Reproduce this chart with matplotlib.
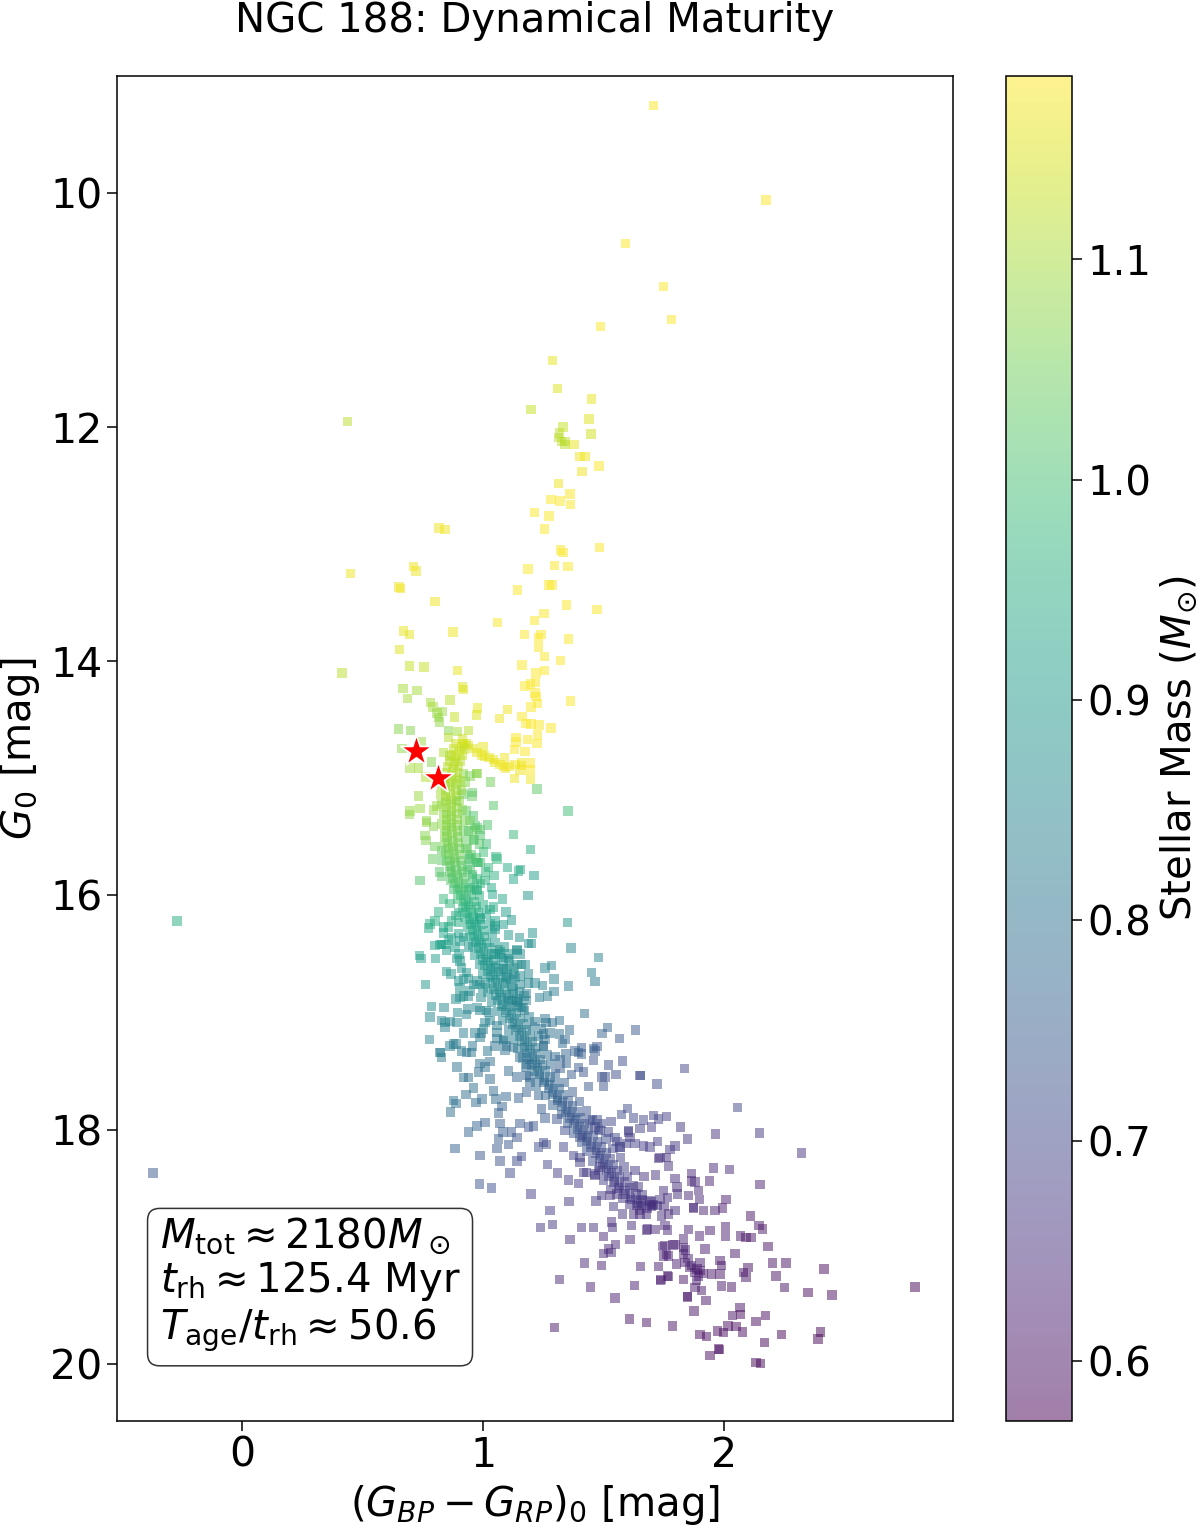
import matplotlib
matplotlib.use('Agg')
import matplotlib.pyplot as plt
import numpy as np

# Red giant branch and stars above the turnoff
giant_x = [1.707, 2.174, 1.592, 1.748, 1.781, 1.488, 1.288, 1.31, 1.45, 1.199,
           0.437, 1.44, 1.332, 1.448, 1.317, 1.313, 1.326, 1.34, 1.34, 1.378,
           1.402, 1.423, 1.481, 1.41, 1.313, 1.36, 1.282, 1.32, 1.364, 1.213,
           1.274, 1.254, 0.817, 0.842, 1.322, 1.331, 1.483, 0.711, 0.722, 0.449,
           1.297, 1.353, 1.187, 0.651, 0.657, 1.142, 1.274, 1.286, 0.801, 1.346,
           1.473, 1.253, 1.213, 1.061, 0.669, 0.694, 0.876, 1.173, 1.24, 1.231,
           1.355, 1.231, 0.654, 1.256, 1.321, 0.694, 0.755, 1.162, 0.893, 1.255,
           1.22, 0.414, 1.218, 1.198, 1.174, 0.914, 0.918, 0.667, 0.726, 1.216,
           0.687, 0.863, 0.781, 1.22, 1.227, 1.199, 1.364, 0.793, 0.977, 1.101,
           0.831, 0.808, 0.972, 0.815, 0.882, 1.161, 1.068, 0.819, 1.178, 1.199,
           1.232, 1.282, 0.65, 0.698, 0.856, 0.893, 0.939, 1.227]
giant_g = [9.25, 10.06, 10.43, 10.80, 11.08, 11.14, 11.43, 11.67, 11.76, 11.85,
           11.95, 11.93, 12.0, 12.06, 12.05, 12.09, 12.12, 12.12, 12.15, 12.15,
           12.25, 12.25, 12.33, 12.38, 12.48, 12.57, 12.62, 12.63, 12.66, 12.73,
           12.76, 12.87, 12.86, 12.875, 13.05, 13.07, 13.03, 13.19, 13.23, 13.25,
           13.18, 13.19, 13.21, 13.365, 13.38, 13.39, 13.35, 13.35, 13.49, 13.52,
           13.56, 13.59, 13.65, 13.67, 13.74, 13.77, 13.75, 13.77, 13.77, 13.80,
           13.81, 13.88, 13.90, 13.96, 13.995, 14.04, 14.05, 14.03, 14.08, 14.08,
           14.10, 14.10, 14.18, 14.195, 14.21, 14.22, 14.24, 14.23, 14.25, 14.27,
           14.32, 14.33, 14.35, 14.30, 14.36, 14.39, 14.34, 14.39, 14.40, 14.41,
           14.43, 14.44, 14.46, 14.48, 14.475, 14.47, 14.49, 14.52, 14.53, 14.535,
           14.545, 14.57, 14.58, 14.59, 14.59, 14.60, 14.59, 14.63]
giant_mass = [1.18, 1.18, 1.18, 1.18, 1.18, 1.18, 1.16, 1.15, 1.16, 1.13,
              1.12, 1.15, 1.13, 1.14, 1.12, 1.12, 1.12, 1.12, 1.12, 1.16,
              1.17, 1.17, 1.18, 1.17, 1.17, 1.18, 1.18, 1.18, 1.18, 1.18,
              1.18, 1.18, 1.17, 1.17, 1.18, 1.18, 1.18, 1.17, 1.17, 1.17,
              1.18, 1.18, 1.18, 1.17, 1.17, 1.18, 1.18, 1.18, 1.17, 1.18,
              1.18, 1.18, 1.18, 1.18, 1.16, 1.16, 1.17, 1.18, 1.18, 1.18,
              1.18, 1.18, 1.15, 1.18, 1.18, 1.13, 1.13, 1.18, 1.16, 1.18,
              1.18, 1.12, 1.18, 1.18, 1.18, 1.15, 1.15, 1.10, 1.10, 1.18,
              1.10, 1.12, 1.10, 1.18, 1.18, 1.18, 1.18, 1.10, 1.16, 1.17,
              1.09, 1.09, 1.15, 1.09, 1.13, 1.18, 1.17, 1.08, 1.18, 1.18,
              1.18, 1.18, 1.07, 1.07, 1.07, 1.10, 1.12, 1.18]

# Subgiant branch and the stars scattered around the turnoff
turnoff_x = [0.856, 0.914, 1.184, 1.223, 1.137, 1.136, 1.13, 0.743, 0.663, 1.0,
             0.92, 0.94, 0.96, 0.975, 0.995, 1.005, 1.025, 1.043, 1.05, 1.07,
             1.088, 1.084, 1.094, 1.11, 1.174, 1.133, 1.16, 1.16, 1.153, 1.198,
             1.195, 1.131, 1.196, 0.972, 1.03, 1.224, 1.044, 1.353, 0.954, 0.96,
             0.787, 0.697, 0.732, 0.764, 0.732, 0.697, 0.694, 0.739, 0.794, 0.808,
             0.766, 0.835, 0.863, 0.918, 0.946, 0.974, 0.925, 0.916, 0.932, 0.956]
turnoff_g = [14.65, 14.665, 14.67, 14.70, 14.65, 14.69, 14.755, 14.69, 14.745, 14.73,
             14.70, 14.72, 14.745, 14.78, 14.80, 14.81, 14.82, 14.84, 14.865, 14.88,
             14.82, 14.90, 14.91, 14.90, 14.77, 14.88, 14.865, 14.89, 14.93, 14.87,
             14.93, 15.0, 15.01, 14.96, 15.03, 15.09, 15.23, 15.28, 15.15, 15.32,
             14.86, 14.91, 14.91, 14.99, 15.15, 15.28, 15.31, 15.26, 15.27, 15.235,
             15.36, 14.78, 14.81, 14.96, 14.98, 14.96, 15.03, 15.135, 15.28, 15.12]
turnoff_mass = [1.12, 1.14, 1.18, 1.18, 1.18, 1.18, 1.18, 1.09, 1.08, 1.16,
                1.15, 1.15, 1.15, 1.16, 1.16, 1.16, 1.16, 1.16, 1.16, 1.17,
                1.17, 1.17, 1.17, 1.17, 1.18, 1.17, 1.17, 1.17, 1.17, 1.18,
                1.18, 1.17, 1.17, 1.08, 1.05, 1.03, 1.02, 0.99, 1.04, 1.01,
                1.07, 1.10, 1.10, 1.11, 1.09, 1.09, 1.08, 1.09, 1.09, 1.09,
                1.08, 1.11, 1.10, 1.08, 1.06, 1.07, 1.07, 1.04, 1.03, 1.03]

# Densely populated main sequence ridge, three tracks side by side
ridge_g = [14.70, 14.75, 14.80, 14.85, 14.90, 14.95, 15.00, 15.05, 15.10, 15.15,
           15.20, 15.25, 15.30, 15.35, 15.40, 15.45, 15.50, 15.55, 15.60, 15.65,
           15.70, 15.75, 15.80, 15.85, 15.90, 15.95, 16.00, 16.05, 16.10, 16.15,
           16.20, 16.25, 16.30, 16.35, 16.40, 16.45, 16.50, 16.55, 16.60, 16.65,
           16.70, 16.75, 16.80, 16.85, 16.90, 16.95, 17.00, 17.05, 17.10, 17.15,
           17.20, 17.25, 17.30, 17.35, 17.40, 17.45, 17.50, 17.55, 17.60, 17.65,
           17.70, 17.75, 17.80, 17.85, 17.90, 17.95, 18.00, 18.05, 18.10, 18.15,
           18.20, 18.25, 18.30, 18.35, 18.40, 18.45, 18.50, 18.55, 18.60, 18.65]
ridge_g_mid = [14.73, 14.77, 14.83, 14.87, 14.92, 14.98, 15.03, 15.07, 15.13, 15.18,
               15.22, 15.28, 15.32, 15.38, 15.42, 15.47, 15.53, 15.58, 15.62, 15.68,
               15.72, 15.78, 15.82, 15.88, 15.93, 15.97, 16.03, 16.08, 16.12, 16.18,
               16.23, 16.27, 16.33, 16.38, 16.42, 16.48, 16.53, 16.57, 16.63, 16.68,
               16.72, 16.78, 16.83, 16.87, 16.93, 16.98, 17.02, 17.08, 17.13, 17.17,
               17.23, 17.28, 17.32, 17.38, 17.43, 17.47, 17.53, 17.58, 17.62, 17.68,
               17.73, 17.77, 17.83, 17.88, 17.92, 17.98, 18.03, 18.07, 18.13, 18.18,
               18.22, 18.28, 18.33, 18.37, 18.43, 18.48, 18.52, 18.58, 18.63, 18.67]
ridge_mid = [0.91, 0.90, 0.89, 0.882, 0.875, 0.87, 0.865, 0.865, 0.865, 0.867,
             0.868, 0.87, 0.87, 0.87, 0.87, 0.871, 0.872, 0.875, 0.878, 0.881,
             0.885, 0.888, 0.892, 0.898, 0.905, 0.918, 0.93, 0.94, 0.95, 0.958,
             0.965, 0.972, 0.978, 0.985, 0.993, 1.002, 1.012, 1.021, 1.03, 1.041,
             1.052, 1.06, 1.067, 1.075, 1.082, 1.10, 1.117, 1.131, 1.145, 1.159,
             1.172, 1.184, 1.195, 1.205, 1.215, 1.225, 1.235, 1.255, 1.275, 1.293,
             1.31, 1.33, 1.35, 1.367, 1.383, 1.399, 1.415, 1.434, 1.452, 1.47,
             1.488, 1.504, 1.52, 1.533, 1.545, 1.565, 1.585, 1.612, 1.64, 1.68]
ridge_blue = [0.888, 0.878, 0.868, 0.86, 0.853, 0.848, 0.843, 0.843, 0.843, 0.845,
              0.846, 0.848, 0.848, 0.848, 0.848, 0.849, 0.85, 0.853, 0.856, 0.859,
              0.863, 0.866, 0.87, 0.876, 0.883, 0.896, 0.908, 0.918, 0.928, 0.936,
              0.943, 0.95, 0.956, 0.963, 0.971, 0.98, 0.99, 0.999, 1.008, 1.019,
              1.03, 1.038, 1.045, 1.053, 1.06, 1.078, 1.095, 1.109, 1.123, 1.137,
              1.15, 1.162, 1.173, 1.183, 1.193, 1.203, 1.213, 1.233, 1.253, 1.271,
              1.288, 1.308, 1.328, 1.345, 1.361, 1.377, 1.393, 1.412, 1.43, 1.448,
              1.466, 1.482, 1.498, 1.511, 1.523, 1.543, 1.563, 1.59, 1.618, 1.658]
ridge_red = [0.932, 0.922, 0.912, 0.904, 0.897, 0.892, 0.887, 0.887, 0.887, 0.889,
             0.89, 0.892, 0.892, 0.892, 0.892, 0.893, 0.894, 0.897, 0.90, 0.903,
             0.907, 0.91, 0.914, 0.92, 0.927, 0.94, 0.952, 0.962, 0.972, 0.98,
             0.987, 0.994, 1.0, 1.007, 1.015, 1.024, 1.034, 1.043, 1.052, 1.063,
             1.074, 1.082, 1.089, 1.097, 1.104, 1.122, 1.139, 1.153, 1.167, 1.181,
             1.194, 1.206, 1.217, 1.227, 1.237, 1.247, 1.257, 1.277, 1.297, 1.315,
             1.332, 1.352, 1.372, 1.389, 1.405, 1.421, 1.437, 1.456, 1.474, 1.492,
             1.51, 1.526, 1.542, 1.555, 1.567, 1.587, 1.607, 1.634, 1.662, 1.702]
ridge_mass = [1.14, 1.13, 1.13, 1.12, 1.12, 1.11, 1.11, 1.10, 1.10, 1.10,
              1.09, 1.09, 1.08, 1.08, 1.07, 1.07, 1.06, 1.06, 1.05, 1.05,
              1.04, 1.03, 1.03, 1.02, 1.01, 1.00, 0.98, 0.97, 0.96, 0.95,
              0.94, 0.93, 0.93, 0.92, 0.91, 0.90, 0.90, 0.89, 0.89, 0.88,
              0.88, 0.87, 0.87, 0.86, 0.86, 0.85, 0.85, 0.84, 0.83, 0.83,
              0.82, 0.82, 0.81, 0.80, 0.80, 0.79, 0.79, 0.78, 0.77, 0.77,
              0.76, 0.75, 0.75, 0.74, 0.74, 0.73, 0.73, 0.72, 0.72, 0.71,
              0.71, 0.70, 0.70, 0.69, 0.69, 0.68, 0.68, 0.675, 0.67, 0.665]

# Stars hugging both edges of the ridge
edge_x = [0.905, 0.83, 0.91, 0.825, 0.90, 0.83, 0.915, 0.835, 0.925, 0.83,
          0.92, 0.84, 0.93, 0.84, 0.935, 0.845, 0.94, 0.85, 0.945, 0.86,
          0.955, 0.865, 0.965, 0.88, 0.985, 0.895, 1.0, 0.915, 1.015, 0.925,
          1.03, 0.935, 1.04, 0.945, 1.05, 0.955, 1.07, 0.965, 1.085, 0.985,
          1.10, 1.0, 1.115, 1.01, 1.125, 1.02, 1.14, 1.035, 1.16, 1.06,
          1.19, 1.08, 1.205, 1.105, 1.23, 1.125, 1.25, 1.145, 1.265, 1.165,
          1.28, 1.175, 1.30, 1.195, 1.335, 1.22, 1.37, 1.26, 1.40, 1.29,
          1.43, 1.325, 1.455, 1.35, 1.48, 1.375, 1.51, 1.41, 1.54, 1.43,
          1.57, 1.455, 1.585, 1.48, 1.60, 1.50, 1.625, 1.53, 1.66, 1.58,
          1.70, 1.61, 1.735, 1.75, 1.655, 1.65]
edge_g = [15.02, 15.06, 15.10, 15.14, 15.19, 15.22, 15.27, 15.31, 15.36, 15.39,
          15.44, 15.47, 15.52, 15.55, 15.60, 15.63, 15.68, 15.71, 15.76, 15.79,
          15.84, 15.87, 15.92, 15.95, 16.0, 16.03, 16.08, 16.11, 16.16, 16.19,
          16.24, 16.27, 16.32, 16.35, 16.40, 16.43, 16.48, 16.51, 16.56, 16.59,
          16.64, 16.67, 16.72, 16.75, 16.80, 16.83, 16.88, 16.91, 16.96, 16.99,
          17.04, 17.07, 17.12, 17.15, 17.20, 17.23, 17.28, 17.31, 17.36, 17.39,
          17.44, 17.47, 17.52, 17.55, 17.60, 17.63, 17.68, 17.71, 17.76, 17.79,
          17.84, 17.87, 17.92, 17.95, 18.0, 18.03, 18.08, 18.11, 18.16, 18.19,
          18.24, 18.27, 18.32, 18.35, 18.40, 18.43, 18.48, 18.51, 18.56, 18.59,
          18.62, 18.64, 18.60, 18.66, 18.61, 18.69]
edge_mass = [1.10, 1.10, 1.09, 1.10, 1.08, 1.09, 1.07, 1.08, 1.06, 1.08,
             1.05, 1.07, 1.04, 1.06, 1.03, 1.05, 1.02, 1.04, 1.01, 1.03,
             1.00, 1.02, 0.98, 1.00, 0.96, 0.99, 0.95, 0.97, 0.93, 0.95,
             0.92, 0.94, 0.91, 0.93, 0.90, 0.91, 0.89, 0.90, 0.88, 0.89,
             0.87, 0.89, 0.86, 0.88, 0.86, 0.87, 0.85, 0.86, 0.84, 0.85,
             0.83, 0.85, 0.82, 0.83, 0.81, 0.83, 0.80, 0.82, 0.79, 0.81,
             0.78, 0.80, 0.77, 0.79, 0.76, 0.78, 0.75, 0.77, 0.74, 0.76,
             0.73, 0.75, 0.73, 0.74, 0.72, 0.74, 0.71, 0.73, 0.70, 0.72,
             0.69, 0.71, 0.69, 0.70, 0.68, 0.69, 0.67, 0.68, 0.67, 0.67,
             0.66, 0.665, 0.66, 0.65, 0.665, 0.66]

# Faint end of the ridge
ridge_faint_x = [1.70, 1.725, 1.831, 1.831, 1.838, 1.858, 1.879, 1.90, 1.914, 1.886,
                 1.879, 1.907, 1.925, 1.849, 1.875, 1.85, 1.865, 1.888, 1.895, 1.84]
ridge_faint_g = [18.66, 18.65, 19.01, 19.065, 19.135, 19.18, 19.22, 19.205, 19.23, 19.29,
                 19.35, 19.375, 19.46, 19.43, 19.55, 19.10, 19.16, 19.19, 19.25, 19.03]
ridge_faint_mass = [0.66, 0.66, 0.63, 0.63, 0.625, 0.62, 0.62, 0.62, 0.62, 0.62,
                    0.615, 0.61, 0.605, 0.61, 0.60, 0.63, 0.625, 0.62, 0.62, 0.63]

# Binary sequence stars just off the ridge
near_x = [0.939, 0.967, 0.96, 0.946, 0.974, 0.987, 0.946, 0.974, 1.043, 0.987,
          1.05, 1.14, 1.077, 1.084, 1.126, 1.098, 1.05, 1.153, 1.126, 1.14,
          1.181, 1.105, 0.898, 0.87, 0.856, 0.828, 0.904, 0.884, 0.87, 0.918,
          0.939, 0.904, 0.932, 0.974, 1.0, 0.987, 1.029, 1.057, 1.084, 1.126,
          1.153, 1.181, 1.458, 1.195, 1.23, 1.243, 1.257, 1.306, 1.34, 1.402,
          1.444, 1.465, 1.485, 1.555, 1.568, 1.603, 1.61, 1.402, 1.43, 1.485,
          1.465, 1.527, 1.555, 1.638, 1.693, 1.651, 1.624, 1.679]
near_g = [15.45, 15.405, 15.53, 15.69, 15.72, 15.49, 15.93, 15.96, 16.1, 16.19,
          16.22, 16.47, 16.53, 16.63, 16.67, 16.70, 16.62, 16.76, 16.84, 16.9,
          16.84, 16.88, 16.145, 16.22, 16.27, 16.42, 16.39, 16.44, 16.36, 16.36,
          16.44, 16.56, 16.66, 16.73, 16.79, 16.985, 17.07, 17.17, 17.24, 17.30,
          17.38, 17.44, 17.31, 17.6, 17.71, 17.825, 17.9, 17.91, 18.01, 18.07,
          17.925, 17.98, 18.01, 18.1, 18.15, 18.02, 18.07, 18.28, 18.365, 18.32,
          18.395, 18.565, 18.55, 18.65, 18.64, 18.72, 18.72, 18.86]
near_mass = [1.02, 1.01, 1.01, 1.00, 0.99, 1.01, 0.98, 0.97, 0.94, 0.93,
             0.92, 0.87, 0.88, 0.87, 0.87, 0.86, 0.88, 0.85, 0.85, 0.84,
             0.83, 0.85, 0.95, 0.95, 0.94, 0.92, 0.91, 0.91, 0.92, 0.90,
             0.89, 0.89, 0.88, 0.87, 0.87, 0.85, 0.84, 0.83, 0.82, 0.80,
             0.79, 0.78, 0.76, 0.77, 0.76, 0.75, 0.74, 0.73, 0.72, 0.71,
             0.71, 0.70, 0.70, 0.69, 0.68, 0.68, 0.68, 0.69, 0.68, 0.68,
             0.67, 0.66, 0.66, 0.66, 0.65, 0.65, 0.65, 0.64]

# Off-ridge stars with G between 15.1 and 16.0
upper_ms_x = [0.765, 0.794, 1.019, 0.974, 0.987, 1.127,
              0.759, 0.763, 1.015, 1.198, 0.801, 0.828, 0.791, 0.828, 1.053, 1.057,
              1.001, 0.739, 0.819, 0.827, 1.102, 1.147, 1.156, 1.126, 1.212, 1.046,
              1.022, 0.981, 1.008, 1.036, 1.04, 0.974, 1.187, 0.945, 0.955, 0.965,
              0.985, 0.93, 0.95, 0.97, 0.99, 0.935, 0.955, 0.975, 0.99, 1.01]
upper_ms_g = [15.375, 15.41, 15.40, 15.42, 15.435, 15.48,
              15.49, 15.53, 15.56, 15.61, 15.58, 15.62, 15.69, 15.70, 15.67, 15.69,
              15.63, 15.875, 15.80, 15.84, 15.76, 15.79, 15.78, 15.86, 15.83, 15.83,
              15.76, 15.72, 15.875, 15.93, 15.99, 15.95, 16.0, 15.36, 15.45, 15.52,
              15.56, 15.60, 15.65, 15.68, 15.72, 15.78, 15.82, 15.86, 15.90, 15.80]
upper_ms_mass = [1.08, 1.07, 1.01, 1.03, 1.02, 0.98,
                 1.07, 1.07, 0.99, 0.95, 1.05, 1.04, 1.04, 1.03, 0.97, 0.97,
                 0.99, 1.01, 1.02, 1.02, 0.94, 0.94, 0.94, 0.93, 0.91, 0.96,
                 0.97, 1.00, 0.96, 0.94, 0.93, 0.96, 0.89, 1.05, 1.04, 1.03,
                 1.02, 1.04, 1.02, 1.01, 1.00, 1.01, 1.00, 0.98, 0.97, 0.97]

# Off-ridge stars with G between 16.0 and 17.0
mid_ms_x = [1.08, 0.835, 0.863, 1.029, 1.095, 1.117, 1.35, 0.816, 0.888, 0.801,
            0.78, 0.773, 0.835, 0.835, 0.898, 0.898, 1.05, 1.05, 1.084, 1.105,
            1.205, 1.151, 1.188, 1.202, 0.856, 0.842, 0.821, 0.801, 0.849, 1.365,
            1.064, 1.05, 1.07, 1.14, 1.153, 1.112, 1.105, 1.479, 0.736, 0.743,
            0.803, 0.90, 0.891, 0.911, 1.14, 1.16, 1.177, 1.285, 1.257, 1.091,
            0.849, 0.867, 1.451, 1.465, 1.295, 1.188, 1.153, 1.133, 0.761, 0.918,
            0.939, 0.898, 1.188, 1.216, 1.247, 1.354, 0.904, 0.96, 0.987, 0.946,
            1.295, 1.268, 1.234, 1.181, 0.888, 0.904, 0.918, 0.939, 0.992, 1.147,
            0.786, 0.838, 0.935, 0.893, 0.932, 0.974, 1.015, 1.022, 1.172, 1.42,
            1.09, 1.11, 1.13, 1.095, 1.12, 1.15, 1.17, 1.12, 1.14, 1.165]
mid_ms_g = [16.03, 16.03, 16.07, 16.12, 16.14, 16.21, 16.23, 16.14, 16.17, 16.22,
            16.245, 16.28, 16.27, 16.32, 16.23, 16.325, 16.26, 16.29, 16.25, 16.34,
            16.32, 16.36, 16.41, 16.41, 16.38, 16.42, 16.42, 16.43, 16.47, 16.45,
            16.46, 16.50, 16.50, 16.46, 16.50, 16.50, 16.54, 16.53, 16.515, 16.54,
            16.54, 16.50, 16.54, 16.62, 16.59, 16.59, 16.59, 16.60, 16.62, 16.63,
            16.65, 16.67, 16.66, 16.735, 16.715, 16.67, 16.69, 16.70, 16.76, 16.715,
            16.71, 16.73, 16.75, 16.75, 16.77, 16.775, 16.79, 16.76, 16.76, 16.815,
            16.82, 16.86, 16.87, 16.90, 16.885, 16.87, 16.86, 16.86, 16.87, 16.91,
            16.95, 16.96, 16.97, 17.0, 17.015, 16.96, 16.985, 17.0, 16.985, 17.01,
            16.44, 16.56, 16.62, 16.72, 16.78, 16.82, 16.86, 16.90, 16.94, 16.96]
mid_ms_mass = [0.93, 0.98, 0.97, 0.93, 0.91, 0.90, 0.89, 0.96, 0.95, 0.95,
               0.95, 0.94, 0.94, 0.93, 0.94, 0.92, 0.91, 0.90, 0.90, 0.89,
               0.88, 0.88, 0.87, 0.87, 0.92, 0.92, 0.92, 0.92, 0.91, 0.85,
               0.89, 0.89, 0.89, 0.87, 0.87, 0.88, 0.87, 0.84, 0.92, 0.91,
               0.91, 0.90, 0.90, 0.89, 0.87, 0.86, 0.86, 0.84, 0.85, 0.87,
               0.90, 0.89, 0.83, 0.82, 0.84, 0.85, 0.86, 0.86, 0.89, 0.88,
               0.88, 0.88, 0.85, 0.85, 0.84, 0.83, 0.88, 0.87, 0.87, 0.87,
               0.83, 0.83, 0.83, 0.84, 0.87, 0.87, 0.87, 0.86, 0.86, 0.84,
               0.87, 0.86, 0.85, 0.86, 0.85, 0.85, 0.85, 0.85, 0.83, 0.79,
               0.89, 0.88, 0.87, 0.87, 0.86, 0.85, 0.84, 0.85, 0.84, 0.84]

# Off-ridge stars with G between 17.0 and 17.6
lower_ms_x = [0.78, 0.828, 0.842, 0.891, 0.842, 0.863, 1.008, 1.001, 1.216, 1.257,
              1.261, 1.289, 1.317, 1.057, 1.517, 1.633, 1.493, 1.243, 1.25, 1.278,
              1.317, 1.358, 0.918, 0.967, 0.994, 0.987, 1.566, 0.777, 1.057, 1.084,
              1.34, 1.33, 1.257, 1.25, 0.888, 0.863, 0.911, 0.957, 0.953, 0.932,
              1.05, 1.091, 1.098, 1.019, 0.821, 0.828, 1.409, 1.396, 1.382, 1.409,
              1.472, 1.465, 1.344, 1.299, 1.458, 1.52, 1.551, 1.578, 1.029, 0.987,
              1.008, 0.981, 0.891, 1.105, 1.319, 1.347, 1.396, 1.319, 1.368, 1.416,
              1.654, 0.918, 0.939, 1.029, 1.14, 1.181, 1.493, 1.506, 0.824, 0.877]
lower_ms_g = [17.04, 17.07, 17.085, 17.085, 17.13, 17.075, 17.085, 17.14, 17.075, 17.05,
              17.085, 17.085, 17.07, 17.11, 17.13, 17.15, 17.18, 17.14, 17.185, 17.175,
              17.185, 17.15, 17.175, 17.175, 17.175, 17.215, 17.22, 17.23, 17.22, 17.23,
              17.23, 17.265, 17.23, 17.285, 17.27, 17.285, 17.33, 17.285, 17.34, 17.34,
              17.285, 17.32, 17.285, 17.33, 17.34, 17.385, 17.30, 17.34, 17.33, 17.355,
              17.29, 17.33, 17.35, 17.375, 17.41, 17.45, 17.53, 17.415, 17.42, 17.435,
              17.465, 17.51, 17.465, 17.5, 17.40, 17.43, 17.47, 17.48, 17.53, 17.51,
              17.54, 17.555, 17.555, 17.57, 17.55, 17.54, 17.55, 17.55, 17.34, 17.27]
lower_ms_mass = [0.86, 0.85, 0.85, 0.84, 0.84, 0.85, 0.84, 0.84, 0.81, 0.81,
                 0.80, 0.80, 0.80, 0.83, 0.76, 0.74, 0.76, 0.80, 0.80, 0.79,
                 0.79, 0.78, 0.83, 0.83, 0.82, 0.82, 0.74, 0.85, 0.82, 0.82,
                 0.78, 0.78, 0.79, 0.79, 0.82, 0.83, 0.82, 0.81, 0.81, 0.81,
                 0.80, 0.80, 0.80, 0.81, 0.83, 0.82, 0.75, 0.75, 0.76, 0.75,
                 0.74, 0.74, 0.77, 0.78, 0.73, 0.72, 0.71, 0.71, 0.79, 0.80,
                 0.79, 0.79, 0.80, 0.78, 0.76, 0.76, 0.74, 0.75, 0.74, 0.73,
                 0.70, 0.80, 0.79, 0.78, 0.77, 0.76, 0.72, 0.72, 0.83, 0.83]

# Stars below the dense ridge, G between 17.6 and 18.6
faint_x = [0.93, 0.96, 1.043, 1.054, 1.095, 1.147, 1.181, 0.877, 0.888, 0.866,
           0.995, 0.971, 1.078, 1.064, 0.939, 0.974, 1.008, 1.071, 1.082, 1.119,
           1.064, 1.14, 1.105, 1.153, 1.188, 1.209, 0.884, 1.057, 0.988, 1.07,
           1.14, 1.16, 1.112, 0.985, 1.036, 1.199, 1.23, 1.25, 1.264, 1.333,
           1.375, 1.402, 1.268, 1.31, 1.354, 1.396, 1.416, 1.465, 1.357, 1.469,
           1.492, 1.499, 1.437, 1.721, 1.835, 1.651, 1.599, 1.575, 1.624, 1.665,
           1.707, 1.762, 1.727, 1.651, 1.603, 1.70, 1.82, 1.849, 1.965, 1.723,
           1.797, 1.776, 1.693, 1.665, 1.631, 1.596, 1.568, 1.548, 1.52, 1.492,
           1.531, 1.472, 1.734, 1.762, 1.727, 1.769, 1.956, 1.631, 1.668, 1.716,
           1.797, 1.866, 1.939, 1.866, 1.88, 1.893, 1.804, 1.748, 1.806, 1.852,
           1.898, 1.765, 1.693, 1.707, 1.645, 2.055, 2.146, 2.322, 2.022, 2.149]
faint_g = [17.70, 17.645, 17.67, 17.74, 17.72, 17.73, 17.68, 17.75, 17.78, 17.85,
           17.74, 17.77, 17.805, 17.86, 18.02, 17.97, 17.94, 17.95, 18.02, 18.02,
           18.08, 18.07, 18.13, 17.95, 17.98, 17.97, 18.16, 18.16, 18.22, 18.27,
           18.27, 18.23, 18.37, 18.465, 18.5, 18.55, 18.15, 18.11, 18.13, 18.15,
           18.22, 18.24, 18.30, 18.37, 18.43, 18.46, 18.365, 18.38, 18.615, 18.61,
           18.565, 17.63, 17.63, 17.61, 17.48, 17.54, 17.82, 17.87, 17.90, 17.92,
           17.88, 17.89, 17.91, 17.99, 18.01, 17.98, 17.98, 18.08, 18.04, 18.10,
           18.14, 18.17, 18.15, 18.14, 18.12, 18.12, 18.15, 18.07, 18.02, 17.95,
           17.93, 17.92, 18.24, 18.24, 18.25, 18.31, 18.33, 18.35, 18.40, 18.39,
           18.42, 18.375, 18.44, 18.44, 18.45, 18.52, 18.49, 18.52, 18.55, 18.565,
           18.60, 18.58, 18.61, 18.64, 18.49, 17.81, 18.03, 18.2, 18.34, 18.47]
faint_mass = [0.79, 0.79, 0.78, 0.78, 0.77, 0.76, 0.76, 0.80, 0.80, 0.79,
              0.78, 0.78, 0.76, 0.76, 0.77, 0.77, 0.76, 0.75, 0.75, 0.74,
              0.75, 0.73, 0.74, 0.74, 0.73, 0.73, 0.76, 0.74, 0.74, 0.73,
              0.71, 0.71, 0.71, 0.73, 0.72, 0.69, 0.72, 0.71, 0.71, 0.70,
              0.69, 0.69, 0.70, 0.69, 0.68, 0.68, 0.68, 0.68, 0.67, 0.67,
              0.67, 0.73, 0.74, 0.71, 0.70, 0.72, 0.71, 0.71, 0.70, 0.70,
              0.69, 0.68, 0.69, 0.69, 0.69, 0.68, 0.67, 0.67, 0.66, 0.68,
              0.67, 0.67, 0.68, 0.68, 0.69, 0.69, 0.70, 0.70, 0.70, 0.71,
              0.70, 0.71, 0.66, 0.66, 0.66, 0.66, 0.64, 0.67, 0.66, 0.66,
              0.65, 0.64, 0.63, 0.64, 0.64, 0.64, 0.65, 0.65, 0.65, 0.64,
              0.64, 0.65, 0.66, 0.66, 0.67, 0.70, 0.67, 0.66, 0.64, 0.63]

# Faintest stars, G beyond 18.6, plus the outliers on the blue side
tail_x = [1.541, 1.578, 1.278, 1.239, 1.289, 1.409, 1.458, 1.534, 1.537, 1.361,
          1.499, 1.61, 1.617, 1.55, 1.52, 1.499, 1.531, 1.42, 1.491, 1.654,
          1.729, 1.318, 1.445, 1.629, 1.548, 1.607, 1.678, 1.787, 1.296, 1.739,
          1.766, 1.831, 1.849, 1.873, 1.90, 1.928, 1.942, 1.972, 1.976, 1.873,
          1.914, 1.963, 1.797, 1.769, 1.741, 1.679, 1.755, 1.765, 1.682, 1.714,
          1.852, 1.898, 1.942, 1.921, 1.745, 1.762, 1.797, 1.831, 1.90, 1.948,
          1.983, 1.769, 1.737, 1.755, 1.789, 1.748, 1.769, 1.803, 2.008, 1.994,
          2.11, 2.145, 2.159, 2.006, 2.005, 2.069, 2.091, 2.112, 2.183, 2.045,
          2.201, 2.257, 2.099, 2.08, 2.091, 2.215, 2.414, 1.984, 1.99, 2.251,
          1.99, 2.03, 2.349, 2.448, 2.792, 2.066, 2.069, 2.034, 2.171, 2.132,
          2.017, 2.049, 2.076, 1.997, 2.239, 2.401, 2.39, 2.168, 1.98, 2.132,
          2.152, -0.27, -0.37]
tail_g = [18.66, 18.72, 18.69, 18.835, 18.81, 18.835, 18.835, 18.79, 18.835, 18.94,
          18.915, 18.94, 18.82, 18.98, 19.02, 19.06, 19.05, 19.14, 19.16, 19.17,
          19.17, 19.28, 19.345, 19.33, 19.44, 19.62, 19.65, 19.68, 19.69, 19.28,
          19.25, 19.28, 19.425, 18.665, 19.75, 19.77, 19.93, 19.72, 19.875, 18.67,
          18.69, 18.69, 18.69, 18.72, 18.74, 18.72, 18.82, 18.86, 18.85, 18.855,
          18.855, 18.91, 18.865, 19.02, 18.997, 19.07, 18.98, 18.935, 19.135, 19.235,
          19.235, 19.255, 19.29, 18.99, 18.985, 19.08, 19.08, 19.15, 18.60, 18.67,
          18.74, 18.82, 18.85, 18.83, 18.91, 18.91, 18.92, 18.92, 19.0, 19.06,
          19.14, 19.14, 19.18, 19.22, 19.26, 19.25, 19.19, 19.12, 19.16, 19.35,
          19.335, 19.345, 19.39, 19.415, 19.345, 19.52, 19.58, 19.59, 19.59, 19.64,
          19.68, 19.685, 19.73, 19.735, 19.75, 19.73, 19.79, 19.82, 19.88, 19.99,
          20.0, 16.22, 18.37]
tail_mass = [0.67, 0.66, 0.68, 0.67, 0.67, 0.66, 0.66, 0.65, 0.65, 0.65,
             0.64, 0.64, 0.65, 0.64, 0.64, 0.64, 0.64, 0.64, 0.63, 0.63,
             0.62, 0.64, 0.63, 0.62, 0.62, 0.60, 0.60, 0.60, 0.61, 0.62,
             0.62, 0.61, 0.61, 0.64, 0.59, 0.59, 0.59, 0.59, 0.59, 0.64,
             0.63, 0.63, 0.65, 0.65, 0.65, 0.65, 0.64, 0.64, 0.65, 0.64,
             0.63, 0.63, 0.62, 0.62, 0.63, 0.63, 0.63, 0.63, 0.62, 0.61,
             0.61, 0.62, 0.62, 0.63, 0.63, 0.63, 0.63, 0.62, 0.62, 0.62,
             0.61, 0.61, 0.61, 0.62, 0.62, 0.61, 0.61, 0.61, 0.60, 0.61,
             0.60, 0.60, 0.60, 0.60, 0.60, 0.60, 0.59, 0.61, 0.61, 0.60,
             0.61, 0.60, 0.59, 0.59, 0.58, 0.60, 0.59, 0.60, 0.59, 0.59,
             0.59, 0.59, 0.59, 0.59, 0.58, 0.58, 0.58, 0.58, 0.59, 0.58,
             0.58, 0.95, 0.74]

# The two marked stars
star_x = [0.7234, 0.8146]
star_g = [14.765, 15.0]

x_ticks = [0, 1, 2]
y_ticks = [10, 12, 14, 16, 18, 20]
cbar_ticks = [0.6, 0.7, 0.8, 0.9, 1.0, 1.1]

all_x = np.concatenate([giant_x, turnoff_x, ridge_blue, ridge_mid, ridge_red, edge_x, ridge_faint_x,
                        near_x, upper_ms_x, mid_ms_x, lower_ms_x, faint_x, tail_x])
all_g = np.concatenate([giant_g, turnoff_g, ridge_g, ridge_g_mid, ridge_g, edge_g, ridge_faint_g,
                        near_g, upper_ms_g, mid_ms_g, lower_ms_g, faint_g, tail_g])
all_mass = np.concatenate([giant_mass, turnoff_mass, ridge_mass, ridge_mass, ridge_mass, edge_mass, ridge_faint_mass,
                           near_mass, upper_ms_mass, mid_ms_mass, lower_ms_mass, faint_mass, tail_mass])

fig = plt.figure(figsize=(12, 15.25), dpi=100)
ax = fig.add_axes([117 / 1200, 1 - 1421 / 1525, 836 / 1200, 1345 / 1525])
cax = fig.add_axes([1006 / 1200, 1 - 1421 / 1525, 66 / 1200, 1345 / 1525])

sc = ax.scatter(all_x, all_g, c=all_mass, cmap='viridis', vmin=0.573, vmax=1.183,
                s=46, marker='s', alpha=0.5, linewidths=0)
ax.scatter(star_x, star_g, c='red', marker='*', s=560, edgecolors='white', linewidths=1.2, zorder=5)

ax.set_xlim(-0.519, 2.95)
ax.set_ylim(20.49, 9.0)
ax.set_xticks(x_ticks)
ax.set_yticks(y_ticks)
ax.tick_params(labelsize=29.5, length=7, width=1.1)
for spine in ax.spines.values():
    spine.set_linewidth(1.1)

ax.set_xlabel(r'$(G_{BP} - G_{RP})_0$ [mag]', fontsize=29, labelpad=5)
ax.set_ylabel(r'$G_0$ [mag]', fontsize=29, labelpad=6)
ax.set_title('NGC 188: Dynamical Maturity', fontsize=29, pad=32)

info = '\n'.join([r'$M_{\rm tot} \approx 2180 M_\odot$',
                  r'$t_{\rm rh} \approx 125.4$ Myr',
                  r'$T_{\rm age}/t_{\rm rh} \approx 50.6$'])
ax.text(0.051, 0.05, info, transform=ax.transAxes, fontsize=29, va='bottom', ha='left', linespacing=1.1,
        bbox=dict(boxstyle='round,pad=0.3', facecolor='white', edgecolor='#333333', linewidth=1.1))

cbar = fig.colorbar(sc, cax=cax)
cbar.set_ticks(cbar_ticks)
cbar.ax.tick_params(labelsize=29, length=7, width=1.1, pad=4)
cbar.set_label(r'Stellar Mass ($M_{\odot}$)', fontsize=29, labelpad=5)
cbar.outline.set_linewidth(1.1)

fig.savefig('out.png', dpi=100)
